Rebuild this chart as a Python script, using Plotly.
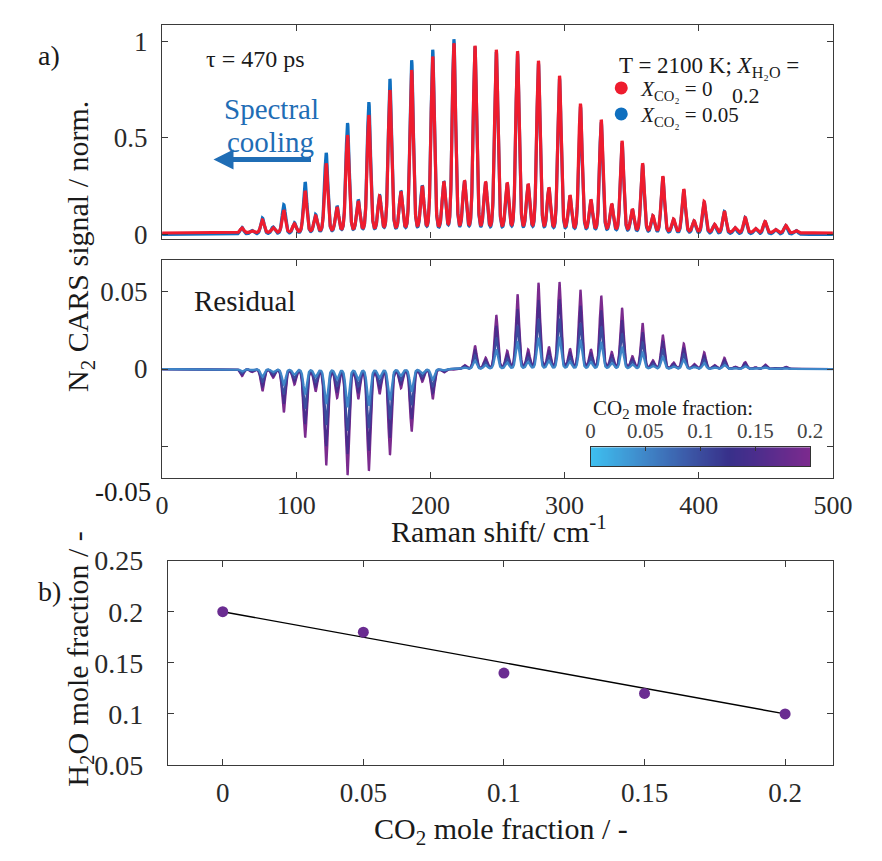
import numpy as np
import plotly.graph_objects as go

W, H = 882, 861
FONT = "Liberation Serif"

# ---------------- data ----------------
# N2 S-branch rotational line positions (Raman shift, cm^-1)
line_pos = [59.5, 66.9, 74.8, 82.7, 90.7, 98.6, 106.6, 114.4, 122.3, 130.4,
            138.2, 146.2, 154.1, 162.1, 169.8, 178.0, 186.0, 193.9, 201.7, 210.0,
            217.5, 225.4, 233.2, 241.1, 249.1, 257.2, 264.9, 272.8, 280.5, 288.3,
            296.2, 304.0, 311.8, 319.6, 327.3, 335.1, 342.8, 350.5, 358.1, 365.8,
            373.2, 381.2, 388.8, 396.5, 404.0, 411.7, 419.1, 427.0, 434.6, 442.3,
            449.4, 457.2, 464.8, 472.5]

# normalised peak levels, X_CO2 = 0 (red) and X_CO2 = 0.05 (blue)
peaks_co2_0 = [0.035, 0.020, 0.076, 0.035, 0.125, 0.054, 0.224, 0.092, 0.365, 0.134,
               0.510, 0.163, 0.612, 0.187, 0.740, 0.208, 0.843, 0.236, 0.912, 0.257,
               0.980, 0.262, 0.967, 0.257, 0.946, 0.252, 0.939, 0.246, 0.890, 0.229,
               0.813, 0.191, 0.670, 0.170, 0.588, 0.150, 0.480, 0.125, 0.365, 0.092,
               0.299, 0.076, 0.233, 0.068, 0.170, 0.051, 0.120, 0.035, 0.088, 0.031,
               0.068, 0.026, 0.048, 0.021]
peaks_co2_005 = [0.037, 0.021, 0.085, 0.038, 0.153, 0.058, 0.269, 0.098, 0.419, 0.140,
                 0.571, 0.170, 0.678, 0.192, 0.797, 0.212, 0.893, 0.238, 0.946, 0.258,
                 1.000, 0.260, 0.962, 0.253, 0.935, 0.248, 0.925, 0.242, 0.875, 0.225,
                 0.798, 0.187, 0.655, 0.166, 0.575, 0.147, 0.470, 0.122, 0.357, 0.090,
                 0.293, 0.074, 0.228, 0.067, 0.167, 0.050, 0.118, 0.034, 0.087, 0.030,
                 0.067, 0.026, 0.047, 0.021]
baseline_co2_0 = 0.009
baseline_co2_005 = 0.002

# residual line amplitudes for X_CO2 = 0.2
residual_peaks_02 = [-0.0045, -0.0018, -0.0140, -0.0053, -0.0276, -0.0095, -0.0437, -0.0136,
                     -0.0615, -0.0176, -0.0677, -0.0182, -0.0650, -0.0151, -0.0549, -0.0116,
                     -0.0398, -0.0078, -0.0192, -0.0021, -0.0004, 0.0025, 0.0149, 0.0070,
                     0.0344, 0.0111, 0.0478, 0.0118, 0.0551, 0.0134, 0.0555, 0.0122,
                     0.0505, 0.0118, 0.0468, 0.0103, 0.0390, 0.0077, 0.0293, 0.0052,
                     0.0217, 0.0039, 0.0163, 0.0031, 0.0107, 0.0025, 0.0072, 0.0014,
                     0.0045, 0.0011, 0.0029, 0.0007, 0.0014, 0.0004]
co2_fractions = [0.2, 0.15, 0.1, 0.05]
residual_scale = [1.0, 0.80, 0.58, 0.36]
residual_colors = ["#7b2b8e", "#4a2d8c", "#3b4c9e", "#3f86c8"]

# panel b
co2_x = [0, 0.05, 0.1, 0.15, 0.2]
h2o_y = [0.2, 0.18, 0.14, 0.12, 0.1]
trend_x = [0, 0.2]
trend_y = [0.2, 0.1]

cbar_scale = [[0.0, "#3ec0f0"], [0.25, "#3f86c8"], [0.5, "#3b4c9e"],
              [0.63, "#38308a"], [0.75, "#4b2d8c"], [1.0, "#7d2a8e"]]
cbar_ticks = [0, 0.05, 0.1, 0.15, 0.2]

# ---------------- line shape ----------------
shift = np.linspace(0, 500, 5001)
FWHM, ETA = 3.0, 0.2


def line_shape(x0):
    d = (shift - x0) / FWHM
    return (1 - ETA) * np.exp(-4 * np.log(2) * d ** 2) + ETA / (1 + 4 * d ** 2)


shapes_by_line = [line_shape(p) for p in line_pos]


def spectrum(levels, base):
    s = np.full_like(shift, base)
    for lvl, shp in zip(levels, shapes_by_line):
        s += (lvl - base) * shp
    return s


def residual(amps, scale):
    s = np.zeros_like(shift)
    for a, shp in zip(amps, shapes_by_line):
        s += scale * a * shp
    return s


def px(x):
    return x / W


def py(y):
    return 1 - y / H


fig = go.Figure()

# panel a, top: spectra
fig.add_trace(go.Scatter(x=shift, y=spectrum(peaks_co2_005, baseline_co2_005),
                         mode="lines", line=dict(color="#0f6fbf", width=3.2),
                         xaxis="x", yaxis="y", showlegend=False, hoverinfo="skip"))
fig.add_trace(go.Scatter(x=shift, y=spectrum(peaks_co2_0, baseline_co2_0),
                         mode="lines", line=dict(color="#ee1c2e", width=3.2),
                         xaxis="x", yaxis="y", showlegend=False, hoverinfo="skip"))

# legend entries (one legend box per entry)
fig.add_trace(go.Scatter(x=[None], y=[None], mode="markers",
                         marker=dict(color="#ee1c2e", size=13),
                         name="<i>X</i><sub>CO₂</sub> = 0", xaxis="x", yaxis="y",
                         legend="legend"))
fig.add_trace(go.Scatter(x=[None], y=[None], mode="markers",
                         marker=dict(color="#0f6fbf", size=13),
                         name="<i>X</i><sub>CO₂</sub> = 0.05", xaxis="x", yaxis="y",
                         legend="legend2"))

# panel a, bottom: residuals
for f, sc, col in zip(co2_fractions, residual_scale, residual_colors):
    fig.add_trace(go.Scatter(x=shift, y=residual(residual_peaks_02, sc), mode="lines",
                             line=dict(color=col, width=2.2), xaxis="x2", yaxis="y2",
                             showlegend=False, hoverinfo="skip", name=str(f)))

# colour bar for the CO2 mole fraction
cb_x = np.linspace(0, 0.2, 201)
fig.add_trace(go.Heatmap(x=cb_x, y=[0], z=[cb_x], colorscale=cbar_scale, zmin=0, zmax=0.2,
                         showscale=False, xaxis="x4", yaxis="y4", hoverinfo="skip"))

# panel b
fig.add_trace(go.Scatter(x=trend_x, y=trend_y, mode="lines",
                         line=dict(color="black", width=1.4),
                         xaxis="x3", yaxis="y3", showlegend=False))
fig.add_trace(go.Scatter(x=co2_x, y=h2o_y, mode="markers",
                         marker=dict(color="#6a2c91", size=11),
                         xaxis="x3", yaxis="y3", showlegend=False))

TICK = "#2a2a2a"
axis_common = dict(showline=True, linecolor="#3a3a3a", linewidth=1.3, mirror="ticks",
                   ticks="inside", ticklen=6, tickcolor="#3a3a3a", tickwidth=1.2,
                   showgrid=False, zeroline=False,
                   tickfont=dict(family=FONT, size=27, color=TICK))

legend_common = dict(xanchor="left", yanchor="middle", bgcolor="rgba(0,0,0,0)",
                     borderwidth=0, itemwidth=30,
                     font=dict(family=FONT, size=21, color="#1a1a1a"))

fig.update_layout(
    width=W, height=H, autosize=False, margin=dict(l=0, r=0, t=0, b=0, pad=0),
    paper_bgcolor="white", plot_bgcolor="white",
    font=dict(family=FONT, color="#1a1a1a"),
    xaxis=dict(axis_common, domain=[px(160), px(852)], range=[0, 500], anchor="y",
               tickvals=[100, 200, 300, 400], showticklabels=False),
    yaxis=dict(axis_common, domain=[py(232), py(10)], range=[-0.02, 1.085], anchor="x",
               tickvals=[0, 0.5, 1], ticktext=["0", "0.5", "1"], ticklabelstandoff=8),
    xaxis2=dict(axis_common, domain=[px(160), px(852)], range=[0, 500], anchor="y2",
                tickvals=[0, 100, 200, 300, 400, 500], ticklabelstandoff=4,
                tickfont=dict(family=FONT, size=26, color=TICK)),
    yaxis2=dict(axis_common, domain=[py(480), py(254.5)], range=[-0.07, 0.07], anchor="x2",
                tickvals=[-0.05, 0, 0.05], ticktext=["", "0", "0.05"], ticklabelstandoff=8),
    xaxis3=dict(axis_common, domain=[px(166), px(852)], range=[-0.0195, 0.217], anchor="y3",
                tickvals=[0, 0.05, 0.1, 0.15, 0.2], ticktext=["0", "0.05", "0.1", "0.15", "0.2"],
                ticklabelstandoff=3, tickfont=dict(family=FONT, size=27, color=TICK)),
    yaxis3=dict(axis_common, domain=[py(778), py(566)], range=[0.05, 0.25], anchor="x3",
                tickvals=[0.05, 0.1, 0.15, 0.2, 0.25],
                ticktext=["0.05", "0.1", "0.15", "0.2", "0.25"], ticklabelstandoff=18,
                tickfont=dict(family=FONT, size=28, color=TICK)),
    xaxis4=dict(domain=[px(602), px(828.6)], range=[0, 0.2], anchor="y4", side="top",
                tickvals=cbar_ticks, ticktext=["0", "0.05", "0.1", "0.15", "0.2"],
                ticks="inside", ticklen=4, tickcolor="#333", showline=True, mirror=True,
                linecolor="#333", linewidth=1.2, showgrid=False, zeroline=False,
                tickfont=dict(family=FONT, size=21, color="#444")),
    yaxis4=dict(domain=[py(468), py(448.3)], range=[-0.5, 0.5], anchor="x4",
                showticklabels=False, ticks="", showline=True, mirror=True,
                linecolor="#333", linewidth=1.2, showgrid=False, zeroline=False),
    legend=dict(legend_common, x=px(613), y=py(76)),
    legend2=dict(legend_common, x=px(613), y=py(103)),
)

ann = []


def text(x, y, s, size, color="#1a1a1a", xanchor="center", angle=0):
    ann.append(dict(x=px(x), y=py(y), xref="paper", yref="paper", text=s, showarrow=False,
                    xanchor=xanchor, yanchor="middle", textangle=angle,
                    font=dict(family=FONT, size=size, color=color)))


text(30, 42, "a)", 28, xanchor="left")
text(30, 598, "b)", 28, xanchor="left")
text(203, 46, "τ = 470 ps", 24, xanchor="left")
text(222, 98, "Spectral", 29, color="#1f6db5", xanchor="left")
text(225, 132, "cooling", 29, color="#1f6db5", xanchor="left")
text(629, 54, "T = 2100 K; <i>X</i><sub>H₂O</sub> =", 23, xanchor="left")
text(762, 84, "0.2", 22)
text(191, 297, "Residual", 29, xanchor="left")
text(151, 495, "-0.05", 27, xanchor="right")
text(602, 409, "CO<sub>2</sub> mole fraction:", 21, xanchor="left")
text(508, 533, "Raman shift/ cm<sup>-1</sup>", 30)
text(76, 240, "N<sub>2</sub> CARS signal / norm.", 30, angle=-90)
text(75, 668, "H<sub>2</sub>O mole fraction / -", 30, angle=-90)
text(510, 846, "CO<sub>2</sub> mole fraction / -", 30)

# arrow indicating the spectral cooling direction
ann.append(dict(x=px(213), y=py(150), xref="paper", yref="paper",
                ax=99, ay=0, axref="pixel", ayref="pixel",
                showarrow=True, arrowhead=2, arrowsize=0.8, arrowwidth=5,
                arrowcolor="#1f6db5", text=""))

fig.update_layout(annotations=ann)

fig.write_html("out.html", config={"displayModeBar": False})
